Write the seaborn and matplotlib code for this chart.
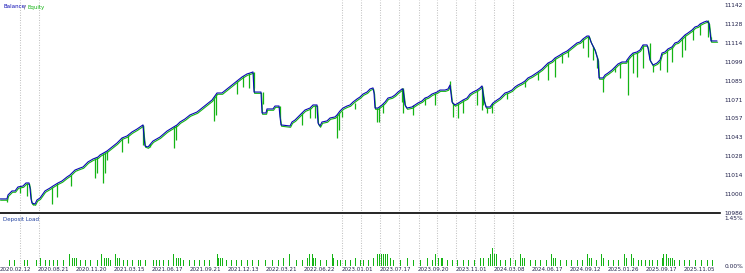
import matplotlib
matplotlib.use("Agg")
import matplotlib.pyplot as plt
import seaborn as sns
from matplotlib.transforms import offset_copy

# ---------------- data ----------------
balance_x = [0, 7, 8, 12, 15, 18, 23, 26, 29, 30, 31, 32, 35, 37, 40, 45, 50, 53, 58, 62,
             67, 70, 75, 80, 83, 88, 93, 98, 100, 107, 112, 117, 122, 127, 132, 137, 143, 144, 145, 148,
             153, 160, 167, 172, 177, 180, 185, 190, 197, 202, 207, 212, 217, 222, 227, 232, 237, 242, 247, 250,
             253, 254, 261, 262, 266, 267, 273, 275, 279, 280, 281, 290, 292, 295, 298, 302, 305, 310, 313, 317,
             318, 320, 322, 327, 330, 335, 337, 340, 343, 347, 350, 353, 357, 360, 363, 367, 370, 373, 374, 375,
             378, 382, 385, 388, 392, 395, 398, 402, 403, 405, 407, 412, 415, 418, 422, 425, 428, 432, 437, 440,
             445, 448, 450, 452, 455, 460, 463, 467, 470, 473, 477, 480, 482, 484, 486, 490, 493, 497, 500, 505,
             508, 512, 515, 518, 522, 525, 528, 532, 535, 538, 542, 545, 548, 552, 555, 560, 563, 567, 572, 577,
             580, 583, 587, 589, 591, 595, 598, 599, 603, 605, 608, 612, 615, 618, 622, 626, 627, 630, 633, 637,
             640, 643, 647, 648, 650, 653, 657, 660, 662, 665, 668, 672, 675, 678, 682, 685, 688, 692, 695, 698,
             700, 704, 707, 709, 711, 717]
balance_v = [10996.3, 10996.3, 10999.3, 11002.3, 11002.3, 11005.3, 11006.0, 11008.3, 11008.3, 11004.5,
             10996.3, 10993.2, 10992.5, 10995.5, 10997.0, 11002.3, 11004.5, 11006.0, 11008.3, 11009.8,
             11012.8, 11014.3, 11018.0, 11019.5, 11020.3, 11024.1, 11026.3, 11027.8, 11029.3, 11032.3,
             11035.3, 11038.3, 11042.1, 11043.6, 11046.6, 11048.8, 11051.9, 11042.8, 11036.1, 11035.3,
             11039.8, 11042.8, 11047.3, 11049.6, 11051.9, 11054.1, 11056.4, 11059.4, 11061.6, 11064.6,
             11067.6, 11070.6, 11075.9, 11075.9, 11078.9, 11081.9, 11084.9, 11087.9, 11090.2, 11090.9,
             11091.7, 11076.6, 11076.6, 11060.9, 11060.9, 11063.9, 11063.9, 11066.1, 11066.1, 11057.9,
             11051.9, 11051.1, 11054.1, 11055.6, 11057.9, 11060.9, 11063.1, 11064.6, 11066.9, 11066.9,
             11053.3, 11051.1, 11054.1, 11054.9, 11057.1, 11057.9, 11059.4, 11062.4, 11064.6, 11066.1,
             11066.9, 11069.1, 11071.4, 11072.9, 11075.1, 11076.6, 11078.9, 11079.7, 11075.9, 11064.6,
             11064.6, 11066.9, 11069.1, 11072.1, 11072.9, 11074.4, 11076.6, 11078.9, 11078.9, 11066.9,
             11064.6, 11065.4, 11066.9, 11068.4, 11069.9, 11072.1, 11072.9, 11075.1, 11076.6, 11078.1,
             11078.1, 11078.9, 11081.9, 11069.1, 11066.9, 11069.1, 11070.6, 11072.1, 11075.1, 11076.6,
             11078.1, 11079.7, 11081.2, 11070.6, 11065.4, 11065.4, 11068.4, 11070.6, 11072.1, 11075.9,
             11076.6, 11078.1, 11080.4, 11081.9, 11083.4, 11084.9, 11087.2, 11088.7, 11090.2, 11091.7,
             11093.9, 11096.2, 11098.4, 11099.9, 11102.2, 11104.4, 11105.9, 11107.4, 11110.5, 11113.5,
             11114.2, 11116.5, 11118.7, 11118.7, 11114.2, 11108.2, 11100.7, 11087.2, 11087.2, 11089.4,
             11090.9, 11093.2, 11095.4, 11097.7, 11099.2, 11099.2, 11100.7, 11103.7, 11105.9, 11106.7,
             11108.2, 11112.0, 11112.0, 11109.7, 11100.7, 11096.9, 11098.4, 11100.7, 11105.9, 11106.7,
             11109.0, 11110.5, 11113.5, 11114.2, 11117.2, 11119.5, 11121.0, 11123.2, 11125.5, 11126.2,
             11127.7, 11129.2, 11130.0, 11128.5, 11115.0, 11115.0]

# equity excursions (drawdown spikes): position, upper value, lower value
equity_dip_x = [7, 20, 27, 33, 52, 57, 71, 95, 97, 103, 105, 107, 122, 128, 143, 150, 174, 176, 214, 216,
                237, 243, 249, 254, 263, 280, 302, 310, 315, 337, 339, 342, 355, 377, 379, 383, 402, 403, 413, 425,
                435, 450, 453, 458, 463, 477, 482, 483, 487, 492, 507, 525, 538, 548, 555, 562, 568, 583, 588, 593,
                597, 603, 615, 620, 628, 633, 637, 643, 650, 653, 660, 667, 672, 682, 685, 693, 700, 708, 711]
equity_dip_hi = [10996.3, 11005.5, 11008.3, 10993.2, 11005.5, 11008.0, 11014.0, 11027.0, 11027.8, 11030.5,
                 11031.5, 11032.3, 11042.1, 11044.0, 11051.9, 11037.5, 11050.8, 11051.5, 11072.7, 11075.0,
                 11084.9, 11088.4, 11090.7, 11091.7, 11076.6, 11066.1, 11060.9, 11064.6, 11066.9, 11059.4,
                 11061.0, 11062.4, 11068.0, 11064.6, 11065.5, 11067.5, 11079.7, 11079.7, 11066.5, 11072.1,
                 11076.0, 11084.9, 11068.0, 11068.0, 11070.6, 11078.1, 11081.2, 11072.9, 11065.4, 11068.0,
                 11076.2, 11084.9, 11091.7, 11098.4, 11102.2, 11105.0, 11108.0, 11116.5, 11118.7, 11111.0,
                 11103.0, 11087.2, 11095.4, 11098.5, 11101.5, 11105.9, 11106.7, 11112.0, 11113.5, 11096.9,
                 11100.7, 11108.0, 11110.5, 11117.2, 11119.5, 11123.8, 11127.7, 11130.7, 11118.0]
equity_dip_lo = [10994.0, 11000.8, 10998.5, 10991.7, 10992.5, 10997.8, 11006.0, 11012.0, 11015.8, 11008.3,
                 11015.8, 11025.6, 11031.6, 11038.3, 11036.8, 11035.3, 11034.6, 11040.6, 11054.9, 11059.4,
                 11075.1, 11080.4, 11079.7, 11079.7, 11067.6, 11057.9, 11051.9, 11057.1, 11057.1, 11042.1,
                 11048.1, 11058.0, 11064.0, 11054.1, 11054.1, 11060.9, 11069.1, 11060.9, 11059.4, 11066.9,
                 11066.9, 11080.4, 11057.9, 11057.1, 11060.9, 11066.9, 11063.1, 11066.9, 11061.0, 11060.9,
                 11071.4, 11080.4, 11085.7, 11085.7, 11087.9, 11098.4, 11102.9, 11109.7, 11102.9, 11100.7,
                 11094.7, 11076.6, 11091.7, 11087.2, 11074.4, 11090.9, 11087.9, 11094.7, 11100.7, 11092.0,
                 11093.2, 11091.7, 11099.2, 11102.9, 11108.2, 11115.7, 11119.5, 11118.0, 11115.0]

# deposit load (%) per deal
load_x = [9, 14, 24, 27, 36, 40, 45, 49, 53, 57, 63, 69, 72, 74, 76, 80, 85, 90, 97, 101,
          104, 106, 108, 110, 115, 117, 119, 123, 127, 132, 138, 140, 145, 153, 156, 159, 163, 168, 173, 176,
          178, 180, 183, 189, 194, 199, 204, 209, 217, 218, 220, 222, 226, 231, 236, 241, 247, 252, 258, 265,
          272, 278, 283, 289, 296, 302, 307, 309, 312, 313, 315, 320, 326, 332, 333, 337, 340, 345, 350, 355,
          360, 363, 368, 373, 377, 379, 381, 383, 385, 387, 390, 393, 400, 407, 413, 420, 427, 432, 435, 438,
          441, 442, 447, 452, 457, 463, 468, 474, 480, 483, 488, 490, 492, 494, 496, 500, 505, 510, 515, 520,
          522, 524, 530, 535, 540, 546, 551, 553, 555, 560, 566, 571, 577, 582, 587, 589, 591, 596, 601, 603,
          608, 613, 618, 624, 626, 631, 633, 638, 641, 645, 649, 652, 657, 662, 663, 666, 668, 670, 672, 674,
          679, 684, 689, 695, 701, 707, 712]
load_pct = [0.18, 0.18, 0.18, 0.18, 0.18, 0.24, 0.18, 0.18, 0.18, 0.18, 0.18, 0.37, 0.24, 0.24, 0.24, 0.18, 0.18, 0.18, 0.18, 0.37,
            0.24, 0.24, 0.24, 0.18, 0.37, 0.24, 0.24, 0.18, 0.18, 0.18, 0.18, 0.18, 0.18, 0.18, 0.18, 0.18, 0.18, 0.18, 0.37, 0.24,
            0.24, 0.24, 0.18, 0.18, 0.18, 0.18, 0.18, 0.18, 0.37, 0.24, 0.24, 0.24, 0.18, 0.18, 0.18, 0.18, 0.18, 0.18, 0.18, 0.18,
            0.18, 0.18, 0.24, 0.37, 0.18, 0.18, 0.24, 0.37, 0.37, 0.24, 0.24, 0.18, 0.18, 0.37, 0.24, 0.18, 0.18, 0.18, 0.18, 0.24,
            0.18, 0.18, 0.18, 0.24, 0.37, 0.37, 0.37, 0.37, 0.37, 0.37, 0.24, 0.18, 0.18, 0.24, 0.18, 0.18, 0.24, 0.18, 0.37, 0.24,
            0.24, 0.24, 0.18, 0.18, 0.18, 0.18, 0.18, 0.18, 0.24, 0.24, 0.24, 0.37, 0.55, 0.37, 0.37, 0.18, 0.18, 0.24, 0.18, 0.37,
            0.24, 0.24, 0.18, 0.18, 0.18, 0.18, 0.37, 0.24, 0.24, 0.18, 0.18, 0.18, 0.18, 0.18, 0.37, 0.24, 0.24, 0.18, 0.37, 0.24,
            0.18, 0.18, 0.18, 0.37, 0.24, 0.37, 0.24, 0.18, 0.18, 0.18, 0.18, 0.18, 0.18, 0.24, 0.37, 0.37, 0.24, 0.24, 0.24, 0.18,
            0.18, 0.18, 0.18, 0.18, 0.18, 0.18, 0.18]

marker_x = [20, 39, 342, 361, 380, 399, 419, 437, 456, 475, 494, 513]

ytick_vals = [11142, 11127.8, 11113.6, 11099.4, 11085.2, 11071, 11056.8, 11042.6, 11028.4, 11014.2, 11000, 10985.8]
ytick_labels = ["11142", "11128", "11114", "11099", "11085", "11071", "11057", "11043", "11028", "11014", "11000", "10986"]

date_pos = [0, 38, 76, 114, 152, 190, 228, 266, 304, 342, 380, 418, 456, 494, 532, 570, 608, 646, 684]
date_labels = ["2020.02.12", "2020.08.21", "2020.11.20", "2021.03.15", "2021.06.17", "2021.09.21", "2021.12.13",
               "2022.03.21", "2022.06.22", "2023.01.01", "2023.07.17", "2023.09.20", "2023.11.01", "2024.03.08",
               "2024.06.17", "2024.09.12", "2025.01.26", "2025.09.17", "2025.11.05"]

load_ticks = [0, 1.45]
load_tick_labels = ["0.00%", "1.45%"]

# ---------------- style ----------------
sns.set_theme(style="white")
plt.rcParams["font.family"] = ["DejaVu Sans"]

BLUE = "#0a0ab4"
GREEN = "#14b414"
TXT = "#20204a"
W, H = 745, 273

fig = plt.figure(figsize=(W / 100, H / 100), dpi=100)
fig.patch.set_facecolor("white")
ax = fig.add_axes([0, 1 - 213 / H, 720 / W, 213 / H])
ax2 = fig.add_axes([0, 1 - 266 / H, 720 / W, 52 / H])

# equity base line (just under the balance) + drawdown spikes
shift = offset_copy(ax.transData, fig=fig, x=0.6, y=-1.3, units="dots")
sns.lineplot(x=balance_x, y=balance_v, ax=ax, color=GREEN, lw=0.8, sort=False,
             estimator=None, legend=False, transform=shift)
ax.vlines(equity_dip_x, equity_dip_lo, equity_dip_hi, color=GREEN, lw=0.9)
sns.lineplot(x=balance_x, y=balance_v, ax=ax, color=BLUE, lw=0.8, sort=False,
             estimator=None, legend=False)

sns.barplot(x=load_x, y=load_pct, ax=ax2, native_scale=True, width=1.0, color=GREEN,
            saturation=1, linewidth=0, errorbar=None, antialiased=False)

for a in (ax, ax2):
    for xv in marker_x:
        a.axvline(xv, color="#c4c4c4", lw=0.75, linestyle=(0, (1.0, 1.4)), zorder=0)
    a.set_xlim(0, 720)
    a.set_facecolor("white")
    a.set_xlabel("")
    a.set_ylabel("")
    for s in a.spines.values():
        s.set_visible(False)

ax.set_ylim(10985.73, 11145.76)
ax.set_xticks([])
ax.yaxis.tick_right()
ax.set_yticks(ytick_vals)
ax.set_yticklabels(ytick_labels)
ax.tick_params(axis="y", length=0, pad=3, labelsize=4.2, labelcolor=TXT)
ax.spines["bottom"].set_visible(True)
ax.spines["bottom"].set_color("black")
ax.spines["bottom"].set_linewidth(1.2)

ax2.set_ylim(0, 1.587)
ax2.yaxis.tick_right()
ax2.set_yticks(load_ticks)
ax2.set_yticklabels(load_tick_labels)
ax2.tick_params(axis="y", length=0, pad=3, labelsize=4.2, labelcolor=TXT)
ax2.set_xticks(date_pos)
ax2.set_xticklabels(date_labels, ha="left")
ax2.tick_params(axis="x", length=0, pad=1, labelsize=4.0, labelcolor=TXT)

# headers
fig.text(3 / W, 1 - 7 / H, "Balance", color=BLUE, fontsize=4.0, va="center", ha="left")
fig.text(24 / W, 1 - 7 / H, "/", color=TXT, fontsize=4.0, va="center", ha="left")
fig.text(27 / W, 1 - 7 / H, "Equity", color=GREEN, fontsize=4.0, va="center", ha="left")
fig.text(3 / W, 1 - 219 / H, "Deposit Load", color="#1f3f9f", fontsize=4.0, va="center", ha="left")

fig.savefig("out.png", dpi=100, facecolor="white")
